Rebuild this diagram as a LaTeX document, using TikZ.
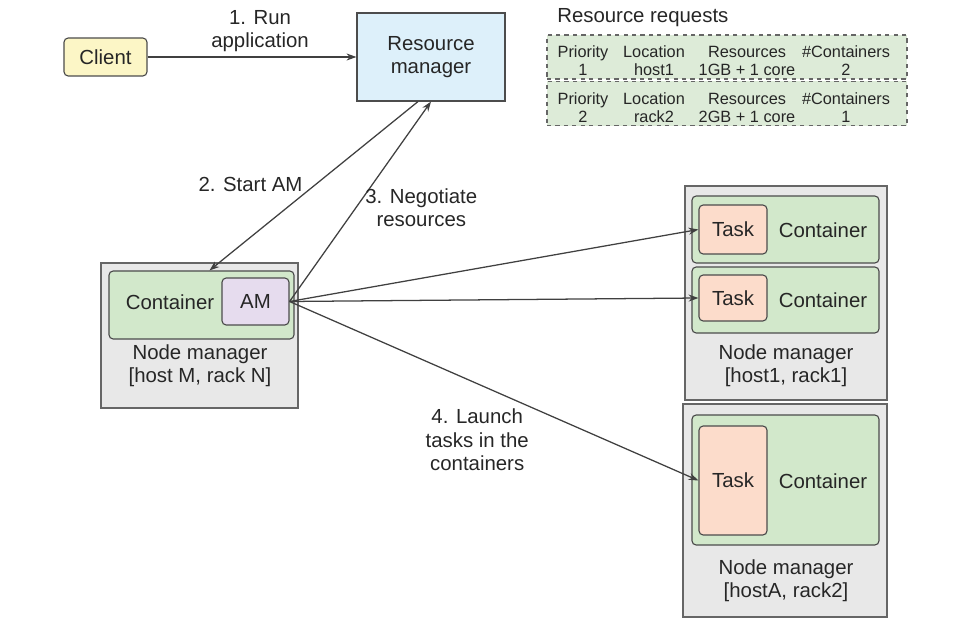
\documentclass[tikz,border=0pt]{standalone}
\usepackage{fontspec}
\setmainfont{Liberation Sans}
\usetikzlibrary{arrows.meta, positioning}
\definecolor{clientfill}{HTML}{FCF6C6}
\definecolor{rmfill}{HTML}{DDF0FA}
\definecolor{nmfill}{HTML}{E8E8E8}
\definecolor{contfill}{HTML}{D2E8CB}
\definecolor{amfill}{HTML}{E6DCEE}
\definecolor{taskfill}{HTML}{FCDCCB}
\definecolor{reqfill}{HTML}{DDEBD8}

\begin{document}
\begin{tikzpicture}[
        x=0.025cm, y=-0.025cm,
        every node/.style={font=\fontsize{14.5}{16}\selectfont, text=black!85},
        box/.style={draw=black!70, line width=0.8pt, rectangle, inner sep=0pt, align=center},
        nmbox/.style={box, draw=black!60, line width=1.1pt, fill=nmfill},
        contbox/.style={box, rounded corners=3pt, fill=contfill, minimum width=4.675cm},
        taskbox/.style={box, rounded corners=3pt, fill=taskfill, minimum width=1.7cm},
        reqbox/.style={box, dashed, draw=black!60, fill=reqfill, minimum width=9cm, minimum height=1.1cm},
        cell/.style={align=center, inner sep=0pt, font=\fontsize{11.6}{12.8}\selectfont},
        lbl/.style={align=center, font=\fontsize{14.5}{16.5}\selectfont},
        arrow/.style={-{Stealth[length=7pt,width=5pt]}, line width=0.9pt, draw=black!75}
    ]
        \useasboundingbox (0,0) rectangle (975,642);

        % Client and resource manager
        \node[box, rounded corners=3pt, fill=clientfill, minimum width=2.075cm, minimum height=0.95cm] (client) at (105.5,57) {Client};
        \node[box, fill=rmfill, minimum width=3.7cm, minimum height=2.2cm] (rm) at (431,57) {Resource\\manager};

        % Resource requests
        \node[anchor=west, inner sep=0pt] (reqtitle) at (557,18) {Resource requests};
        \foreach \r/\y/\p/\loc/\res/\n in {1/57/1/host1/1GB + 1 core/2, 2/103.5/2/rack2/2GB + 1 core/1} {
            \node[reqbox] (req\r) at (727,\y) {};
            \node[cell] (pri\r) at (583,\y+4) {Priority\\\p};
            \node[cell] (loc\r) at (654,\y+4) {Location\\\loc};
            \node[cell] (res\r) at (747,\y+4) {Resources\\\res};
            \node[cell] (num\r) at (846,\y+4) {\#Containers\\\n};
        }

        % Node manager with the AM
        \node[nmbox, minimum width=4.925cm, minimum height=3.625cm] (nmM) at (199.5,335.5) {};
        \node[contbox, minimum width=4.625cm, minimum height=1.7cm] (contM) at (201.5,305) {};
        \node[box, rounded corners=3pt, fill=amfill, minimum width=1.675cm, minimum height=1.175cm] (am) at (255.5,301.5) {AM};
        \node (contMtxt) at (170,302) {Container};
        \node[lbl] (nmMtxt) at (200,366) {Node manager\\{}[host M, rack N]};

        % Node manager host1
        \node[nmbox, minimum width=5.05cm, minimum height=5.35cm] (nm1) at (786,293) {};
        \node[contbox, minimum height=1.675cm] (cont1a) at (785.5,229.5) {};
        \node[taskbox, minimum height=1.225cm] (task1a) at (733,229.5) {Task};
        \node (cont1atxt) at (823,230) {Container};
        \node[contbox, minimum height=1.65cm] (cont1b) at (785.5,300) {};
        \node[taskbox, minimum height=1.15cm] (task1b) at (733,298) {Task};
        \node (cont1btxt) at (823,300) {Container};
        \node[lbl] (nm1txt) at (786,366) {Node manager\\{}[host1, rack1]};

        % Node manager hostA
        \node[nmbox, minimum width=5.1cm, minimum height=5.325cm] (nmA) at (785,510.5) {};
        \node[contbox, minimum height=3.25cm] (contA) at (785.5,480) {};
        \node[taskbox, minimum height=2.725cm] (taskA) at (733,480.5) {Task};
        \node (contAtxt) at (823,481) {Container};
        \node[lbl] (nmAtxt) at (786,581) {Node manager\\{}[hostA, rack2]};

        % Arrows
        \draw[arrow] (client) -- (rm) node[midway, above, lbl, xshift=0.2cm] {1. Run\\application};
        \draw[arrow] ([xshift=-0.325cm]rm.south) -- ([xshift=0.2cm]contM.north) node[pos=0.5, left, xshift=-0.15cm, yshift=0.05cm] {2. Start AM};
        \draw[arrow] (am.east) -- (rm.south) node[pos=0.47, right, lbl, xshift=0.1cm] {3. Negotiate\\resources};
        \draw[arrow] (am.east) -- (task1a.west);
        \draw[arrow] (am.east) -- (task1b.west);
        \draw[arrow] (am.east) -- (taskA.west) node[pos=0.59, anchor=north east, lbl, inner sep=1pt] {4. Launch\\tasks in the\\containers};
    \end{tikzpicture}
\end{document}
